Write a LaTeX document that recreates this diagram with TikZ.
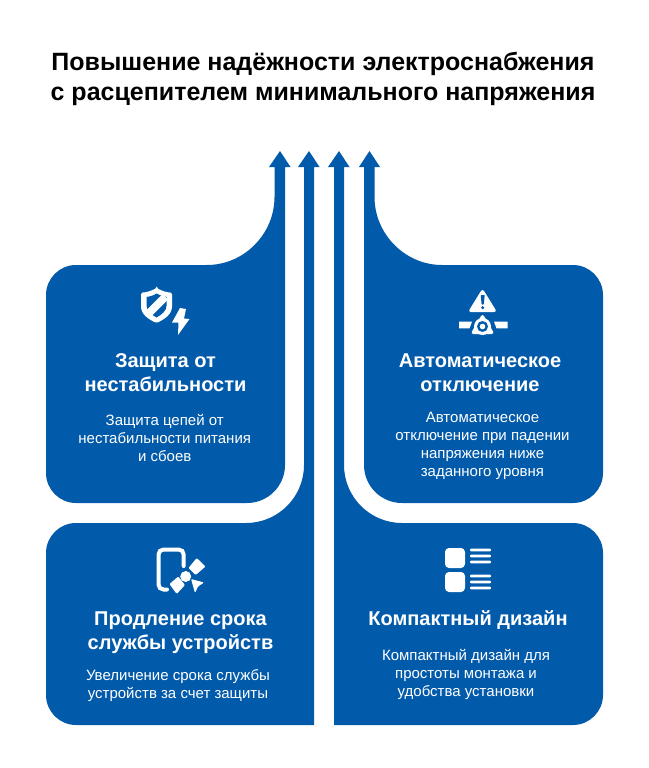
\documentclass[tikz,border=0pt]{standalone}
\usepackage{fontspec}
\setmainfont{Liberation Sans}
\definecolor{cardblue}{HTML}{025AAA}
\tikzset{
  x=1pt,y=-1pt,
  shapefill/.style={fill=cardblue,draw=none},
  ttl/.style={font=\fontsize{25}{30}\selectfont\bfseries,align=center,text=black,inner sep=0pt},
  head/.style={font=\fontsize{20}{24}\selectfont\bfseries,align=center,text=white,inner sep=0pt},
  body/.style={font=\fontsize{15}{18}\selectfont,align=center,text=white,inner sep=0pt},
  ico/.style={fill=white,draw=none},
  icocut/.style={fill=cardblue,draw=none},
}
\begin{document}
\begin{tikzpicture}
\useasboundingbox (0,0) rectangle (648,768);
% top-left card with arrow 1
\fill[shapefill] (280,151) -- (290.5,167) -- (285,167) -- (285,465) .. controls (285,486) and (268,503) .. (247,503)
 -- (76,503) .. controls (59.5,503) and (46,489.5) .. (46,473) -- (46,295) .. controls (46,278.5) and (59.5,265) .. (76,265)
 -- (207,265) .. controls (244,265) and (274.5,234) .. (274.5,197) -- (274.5,167) -- (269,167) -- cycle;
% bottom-left card with arrow 2
\fill[shapefill] (309,151) -- (319.5,167) -- (314,167) -- (314,725) -- (76,725) .. controls (59.5,725) and (46,711.5) .. (46,695)
 -- (46,553) .. controls (46,536.5) and (59.5,523) .. (76,523) -- (246,523) .. controls (278,523) and (304,497) .. (304,465) -- (304,167) -- (298,167) -- cycle;
% bottom-right card with arrow 3
\fill[shapefill] (339,151) -- (349.5,167) -- (344,167) -- (344,465) .. controls (344,497) and (370,523) .. (402,523)
 -- (573,523) .. controls (589.5,523) and (603,536.5) .. (603,553) -- (603,695) .. controls (603,711.5) and (589.5,725) .. (573,725)
 -- (334,725) -- (334,167) -- (328,167) -- cycle;
% top-right card with arrow 4
\fill[shapefill] (369.5,151) -- (380,167) -- (374.5,167) -- (374.5,197) .. controls (374.5,234) and (405,265) .. (442,265)
 -- (573,265) .. controls (589.5,265) and (603,278.5) .. (603,295) -- (603,473) .. controls (603,489.5) and (589.5,503) .. (573,503)
 -- (402,503) .. controls (381,503) and (364,486) .. (364,465) -- (364,167) -- (359,167) -- cycle;
% title
\node[ttl] (title) at (323,78.7) {Повышение надёжности электроснабжения\\с расцепителем минимального напряжения};
% texts
\node[head] (h1) at (165.5,373) {Защита от\\нестабильности};
\node[body] (b1) at (164.7,438) {Защита цепей от\\нестабильности питания\\и сбоев};
\node[head] (h2) at (480,373) {Автоматическое\\отключение};
\node[body] (b2) at (482.5,446) {Автоматическое\\отключение при падении\\напряжения ниже\\заданного уровня};
\node[head] (h3) at (180.5,632.5) {Продление срока\\службы устройств};
\node[body] (b3) at (178,686) {Увеличение срока службы\\устройств за счет защиты};
\node[head] (h4) at (468,620) {Компактный дизайн};
\node[body] (b4) at (466,674) {Компактный дизайн для\\простоты монтажа и\\удобства установки};
% icon 1: shield with bolt
\fill[ico,rounded corners=1.5pt] (156.7,288) .. controls (151,291) and (146,292.5) .. (141,292.5) -- (141,305) .. controls (141,314) and (148,319) .. (156.5,323) .. controls (165,319) and (172,314) .. (172,305) -- (172,292.5) .. controls (167,292.5) and (162,291) .. (156.7,288) -- cycle;
\fill[icocut] (156.7,293.5) .. controls (153,295.5) and (150,296.8) .. (146.5,297) -- (146.5,305) .. controls (146.5,310.5) and (151,314.5) .. (156.5,317.5) .. controls (162,314.5) and (166.7,310.5) .. (166.7,305) -- (166.7,297) .. controls (163.5,296.8) and (160.5,295.5) .. (156.7,293.5) -- cycle;
\fill[ico] (162.5,294) -- (168,299.5) -- (151,316.5) -- (145.5,311) -- cycle;
\path[icocut,draw=cardblue,line width=3.5pt,line join=round] (180,308) -- (172,322.5) -- (178.5,322.5) -- (178,335) -- (189.5,319) -- (184,318.5) -- (186,309) -- cycle;
\fill[ico] (180,308) -- (172,322.5) -- (178.5,322.5) -- (178,335) -- (189.5,319) -- (184,318.5) -- (186,309) -- cycle;
% icon 2: warning and valve
\fill[ico,rounded corners=3pt] (482.5,288.5) -- (497,312) -- (468,312) -- cycle;
\fill[icocut,rounded corners=0.6pt] (480.7,295) -- (484.7,295) -- (483.8,304.5) -- (481.6,304.5) -- cycle;
\fill[icocut] (482.7,307.7) circle (1.7);
\fill[ico] (459,321.7) -- (472,321.7) -- (469.5,328.3) -- (459,328.3) -- cycle;
\fill[ico] (494,321.7) -- (507.5,321.7) -- (507.5,328.3) -- (496.5,328.3) -- cycle;
\fill[ico,rounded corners=3pt] (482.5,313.5) -- (494.5,334) -- (470.5,334) -- cycle;
\fill[ico] (482.5,326.5) circle (8.5);
\fill[icocut] (482.5,326.5) circle (5.5);
\fill[ico] (482.5,326.5) circle (2.8);
% icon 3: phone and fan
\draw[white,line width=4pt,line cap=round,rounded corners=5pt] (167,589.5) -- (158.5,589.5) -- (158.5,549.5) -- (183.7,549.5) -- (183.7,566);
\fill[ico] (185.7,576.5) circle (5.5);
\fill[ico,rounded corners=1pt] (188.5,568) -- (196.7,558) -- (205.5,566.5) -- (195.7,575) -- cycle;
\fill[ico,rounded corners=1pt] (169.5,584) -- (178.3,576.5) -- (185,585) -- (176.7,594) -- cycle;
\fill[ico,rounded corners=1pt] (191,579) -- (204,582.5) -- (198,586.5) -- (195,593) -- cycle;
% icon 4: list
\fill[ico,rounded corners=4pt] (445,548) rectangle (465,568);
\fill[ico,rounded corners=4pt] (445,572) rectangle (465,592);
\foreach \yy in {550,556,562,576,582,588}{\fill[ico,rounded corners=1pt] (470,\yy-1.3) rectangle (491,\yy+1.3);}
\end{tikzpicture}
\end{document}
